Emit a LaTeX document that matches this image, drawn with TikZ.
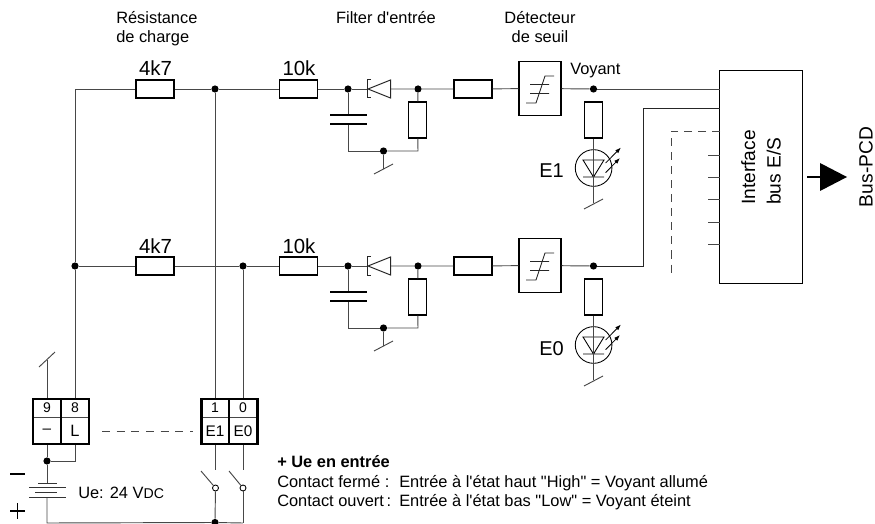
\documentclass[tikz,border=0pt]{standalone}
\usepackage{fontspec}
\setmainfont{Liberation Sans}[Ligatures=TeXOff]
\usetikzlibrary{arrows.meta}
\tikzset{
  wire/.style={line width=0.7pt,draw=black!72},
  res/.style={draw=black,fill=white,line width=0.95pt,minimum width=28.5pt,minimum height=13.5pt,inner sep=0pt},
  resv/.style={draw=black,fill=white,line width=0.95pt,minimum width=14pt,minimum height=27pt,inner sep=0pt},
  dot/.style={circle,fill=black,inner sep=0pt,minimum size=5.4pt},
  schm/.style={draw=black,fill=white,line width=0.95pt,minimum width=31.5pt,minimum height=40pt,inner sep=0pt},
  cell/.style={minimum width=21pt,inner sep=0pt,font=\fontsize{10.5}{12}\selectfont},
  cellb/.style={cell,minimum height=21pt,font=\fontsize{11.5}{13}\selectfont},
  lbl/.style={font=\fontsize{12.3}{14.25}\selectfont,inner sep=0pt,anchor=base},
  val/.style={font=\fontsize{15.3}{17}\selectfont,inner sep=0pt,anchor=base},
  thickbox/.style={line width=2.2pt,draw=black},
  plate/.style={line width=0.75pt,draw=black!80},
  small/.style={font=\fontsize{12.3}{14}\selectfont,inner sep=0pt,anchor=base west},
  ledarrow/.style={line width=0.6pt,-{Latex[length=4.5pt,width=3.2pt]}},
}
\newcommand{\channel}[3]{% suffix, y offset, LED label
\begin{scope}[shift={(0,#2)}]
  \node[res] (ra#1) at (155,89) {};
  \node[val] at (155.5,76) {4k7};
  \node[res] (rb#1) at (298.5,89) {};
  \node[val] at (299,76) {10k};
  \node[dot] (na#1) at (348,89) {};
  \node[dot] (nb#1) at (418,89) {};
  \node[res] (rc#1) at (473,89) {};
  \node[schm] (sc#1) at (540,88.5) {};
  \node[dot] (nc#1) at (593.5,89) {};
  \node[resv] (rd#1) at (417.5,120) {};
  \node[resv] (re#1) at (593.5,120) {};
  \node[dot] (nd#1) at (383.5,151) {};
  \coordinate (cu#1) at (348,115);
  \coordinate (cl#1) at (348,124);
  \coordinate (cb#1) at (348,151);
  \coordinate (rb2#1) at (418,151);
  \coordinate (gd#1) at (383.5,169);
  \coordinate (dt#1) at (368,89);
  \coordinate (db#1) at (390.5,89);
  \draw[wire] (rb#1) -- (na#1) -- (dt#1);
  \draw[wire] (db#1) -- (nb#1) -- (rc#1) -- (sc#1) -- (nc#1);
  \draw[wire] (nb#1) -- (rd#1) -- (rb2#1) -- (nd#1);
  \draw[wire] (nd#1) -- (cb#1) -- (cl#1);
  \draw[wire] (cu#1) -- (na#1);
  \draw[wire] (nd#1) -- (gd#1);
  \draw[wire] (374,174) -- (393,164);
  \draw[line width=2.1pt] (330,115) -- (367,115) (330,124) -- (367,124);
  % diode
  \draw[line width=0.75pt,draw=black!85] (dt#1) -- (390.5,80) -- (390.5,98) -- cycle;
  \draw[line width=0.75pt,draw=black!85] (371,80) -- (367.6,80) -- (367.6,98) -- (371,98);
  % threshold symbol
  \draw[line width=0.65pt,draw=black!85] (526,103) -- (536,103) -- (545,76) -- (554,76) (530,84.5) -- (549,84.5) (530,93.5) -- (549,93.5);
  % LED
  \node[circle,draw=black,line width=0.65pt,minimum size=27.5pt,inner sep=0pt] (led#1) at (593.6,168) {};
  \draw[line width=0.65pt] (583,160) -- (604,160) -- (593.5,177) -- cycle (583,177) -- (604,177);
  \draw[wire] (re#1) -- (593.5,203);
  \draw[wire] (584,209) -- (603,199);
  \draw[ledarrow] (605.6,163) -- (621,147.5);
  \draw[ledarrow] (605.6,172.7) -- (620,158);
  \node[font=\fontsize{15}{17}\selectfont,inner sep=0pt,anchor=base] at (551.5,178) {#3};
\end{scope}}
\begin{document}
\begin{tikzpicture}[x=0.75pt,y=-0.75pt]
\useasboundingbox (0,0) rectangle (875,524);
\channel{t}{0}{E1}
\channel{b}{177}{E0}
% top labels
\node[lbl,anchor=base west] at (116,24) {Résistance};
\node[lbl,anchor=base west] at (116,43) {de charge};
\node[lbl] at (386,24) {Filter d'entrée};
\node[lbl] at (540,24) {Détecteur};
\node[lbl] at (540,43) {de seuil};
\node[lbl,anchor=base west] at (570,75) {Voyant};
% interface
\node[draw=black,fill=white,line width=0.95pt,minimum width=62pt,minimum height=159.5pt,inner sep=0pt] (bus) at (761,177) {};
\node[rotate=90,font=\fontsize{14.4}{19}\selectfont,align=left,inner sep=0pt] (ifc) at (761,167.5) {Interface\\bus E/S};
\node[rotate=90,font=\fontsize{14.4}{16}\selectfont,inner sep=0pt] (pcd) at (866,167) {Bus-PCD};
\coordinate (busa) at (720,89);
\coordinate (busb) at (720,108);
\coordinate (busc) at (720,131.5);
\draw[wire] (nct) -- (busa);
\draw[wire,draw=black!85] (ncb) -- (643,266) -- (643,108) -- (busb);
\draw[wire,dash pattern=on 6pt off 4.5pt] (busc) -- (671,131.5) -- (671,275);
\foreach \yy in {155,177,199,222,244} \draw[wire] (708,\yy) -- (720,\yy);
\fill (820,163) -- (847,177) -- (820,191) -- cycle;
\draw[line width=1.6pt] (807,177) -- (822,177);
% terminals
\node[cell,minimum height=14pt] (t9) at (47,407.5) {9};
\node[cell,minimum height=14pt] (t8) at (75,407.5) {8};
\node[cellb] (tm) at (47,431) {–};
\node[cellb,font=\fontsize{12.3}{13}\selectfont] (tl) at (75,431) {L};
\node[cell,minimum height=14pt] (t1) at (215,407.5) {1};
\node[cell,minimum height=14pt] (t0) at (243,407.5) {0};
\node[cellb] (te1) at (215,431) {E1};
\node[cellb] (te0) at (243,431) {E0};
\draw[wire] (33,417) -- (88,417) (202,417) -- (257,417);
\draw[thickbox] (33,399) rectangle (89,444) (61,399) -- (61,444);
\draw[thickbox] (201.5,399) rectangle (257.5,444) (229,399) -- (229,444);
\draw[wire,dash pattern=on 6pt off 5pt] (102,431) -- (193,431);
% rails
\node[dot] (ntop) at (215,89) {};
\node[dot] (nl) at (75,266) {};
\node[dot] (nr) at (243,266) {};
\coordinate (ctl) at (75,89);
\coordinate (gn) at (47,360);
\draw[wire] (t8.north) -- (nl) -- (ctl) -- (rat) -- (ntop) -- (rbt);
\draw[wire] (nl) -- (rab) -- (nr) -- (rbb);
\draw[wire] (ntop) -- (t1.north);
\draw[wire] (nr) -- (t0.north);
\draw[wire] (t9.north) -- (gn);
\draw[wire] (39,367) -- (55,352);
% supply
\node[dot] (ns) at (47,461) {};
\coordinate (bt) at (47,483);
\coordinate (bb) at (47,497);
\coordinate (rb) at (47,523);
\node[dot] (nsw) at (215,522.5) {};
\coordinate (rr) at (243,523);
\draw[wire] (47,445) -- (ns) -- (bt);
\draw[wire] (ns) -- (75,461) -- (75,445);
\draw[wire] (bb) -- (rb) -- (nsw) -- (rr);
\draw[plate] (38,483) -- (57,483) (29,487) -- (66,487) (35,492) -- (57,492) (29,497) -- (66,497);
\draw[line width=0.8pt] (10,474) -- (25,474) (10,511) -- (25,511) (17.5,503) -- (17.5,518.5);
\node[small] at (78,498) {Ue: 24 V{\fontsize{10.6}{12}\selectfont DC}};
% switches
\node[circle,draw=black,line width=0.65pt,inner sep=0pt,minimum size=4.5pt] (s1) at (215.5,488) {};
\node[circle,draw=black,line width=0.65pt,inner sep=0pt,minimum size=4.5pt] (s0) at (243,488) {};
\draw[wire] (215,445) -- (215,470);
\draw[wire] (243,445) -- (243,470);
\draw[wire] (s1) -- (nsw);
\draw[wire] (s0) -- (rr);
\draw[wire] (s1) -- (201,471);
\draw[wire] (s0) -- (229,471);
% notes
\node[small,font=\fontsize{12.3}{14}\selectfont\bfseries] at (277,467.5) {+ Ue en entrée};
\node[small] at (277,487) {\makebox[91.5pt][l]{Contact fermé :}Entrée à l'état haut "High" = Voyant allumé};
\node[small] at (277,506) {\makebox[91.5pt][l]{Contact ouvert\,:}Entrée à l'état bas "Low" = Voyant éteint};
\end{tikzpicture}
\end{document}
